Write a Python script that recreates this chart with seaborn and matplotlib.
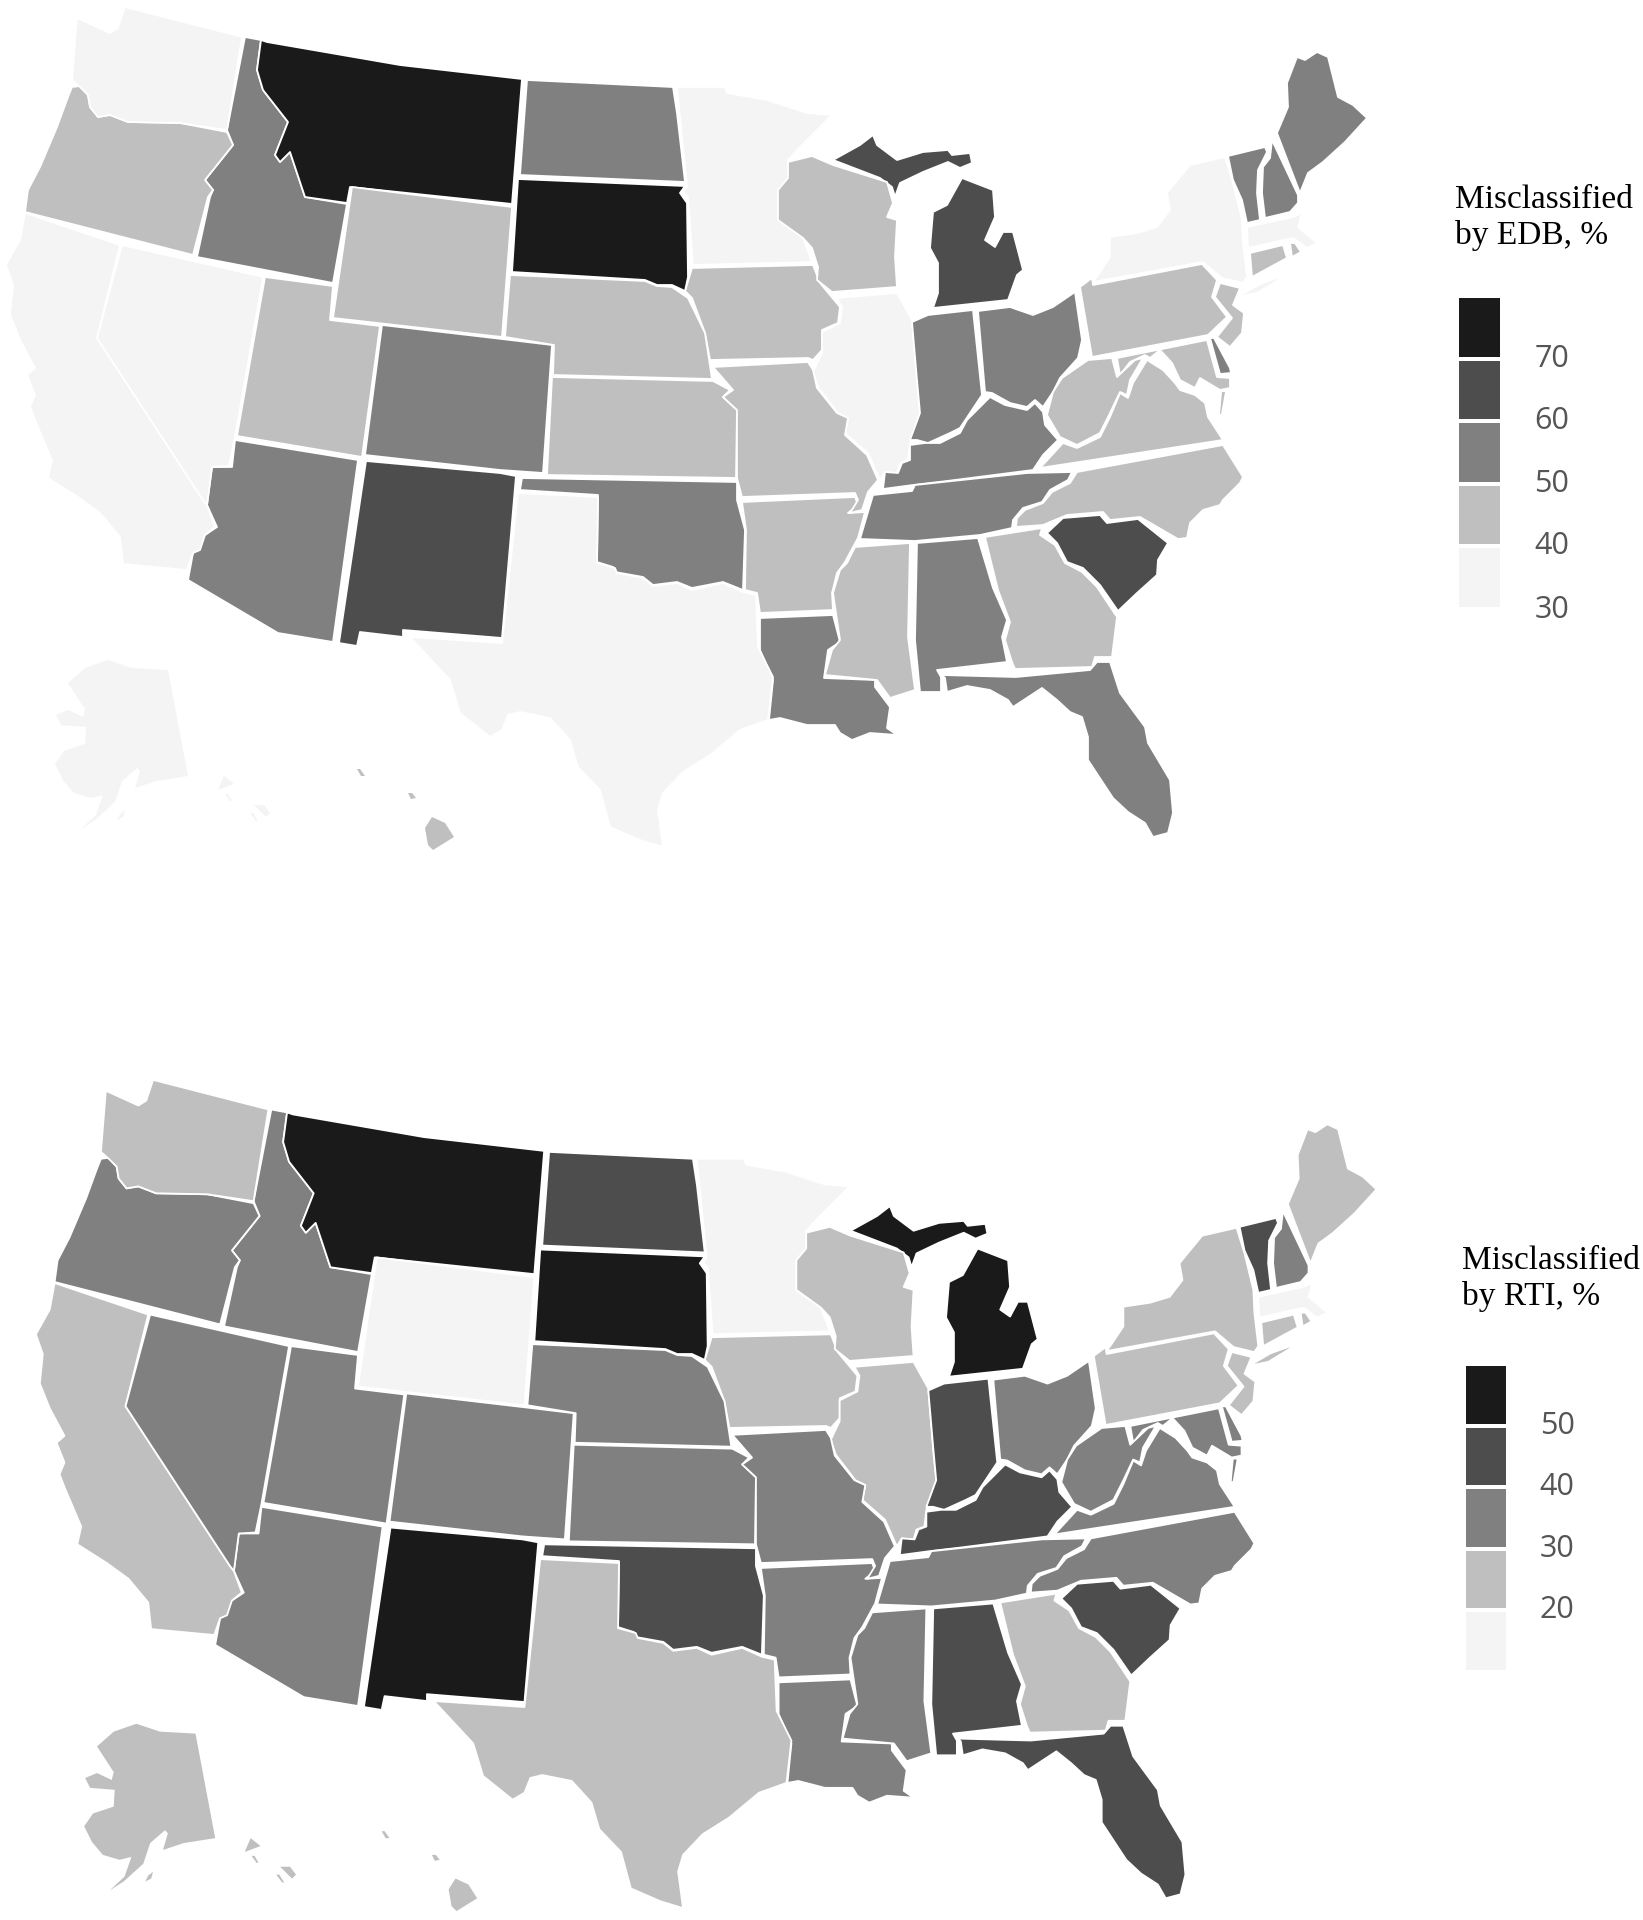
"""Misclassification by state, EDB and RTI measures, as two binned maps."""

import matplotlib

matplotlib.use("Agg")
import matplotlib.pyplot as plt
import numpy as np
import seaborn as sns

STATES = [
    "AK", "AL", "AR", "AZ", "CA", "CO", "CT", "DE", "FL", "GA",
    "HI", "IA", "ID", "IL", "IN", "KS", "KY", "LA", "MA", "MD",
    "ME", "MI", "MN", "MO", "MS", "MT", "NC", "ND", "NE", "NH",
    "NJ", "NM", "NV", "NY", "OH", "OK", "OR", "PA", "RI", "SC",
    "SD", "TN", "TX", "UT", "VA", "VT", "WA", "WI", "WV", "WY",
]
EDB_PCT = [
    35, 55, 45, 55, 35, 55, 45, 55, 55, 45,
    45, 45, 55, 35, 55, 45, 55, 55, 35, 45,
    55, 65, 35, 45, 45, 75, 45, 55, 45, 55,
    45, 65, 35, 35, 55, 55, 45, 45, 45, 65,
    75, 55, 35, 45, 45, 55, 35, 45, 45, 45,
]
RTI_PCT = [
    25, 45, 35, 35, 25, 35, 25, 35, 45, 25,
    25, 25, 35, 25, 45, 35, 45, 35, 15, 35,
    25, 55, 15, 35, 35, 55, 35, 45, 35, 35,
    25, 55, 35, 25, 35, 45, 35, 25, 25, 45,
    55, 35, 25, 35, 35, 45, 25, 25, 35, 15,
]
EDB_TICKS = [70, 60, 50, 40, 30]
RTI_TICKS = [50, 40, 30, 20]
GREYS = ["#f4f4f4", "#bfbfbf", "#808080", "#4d4d4d", "#1a1a1a"]

# state outlines in map units, several parts for MI, NY, VA, AK and HI
OUTLINES = {
    "WA": [[(125, 7), (242, 37), (227, 130), (180, 123), (128, 122), (110, 115), (98, 117), (90, 107), (88, 95), (80, 87), (72, 80), (77, 18), (110, 33), (118, 28)]],
    "OR": [[(72, 87), (80, 86), (88, 95), (90, 107), (98, 117), (110, 115), (128, 122), (180, 123), (227, 132), (233, 145), (205, 180), (213, 190), (208, 197), (193, 255), (25, 212), (28, 190), (40, 167), (57, 127), (68, 97)]],
    "ID": [[(245, 37), (261, 40), (257, 70), (263, 90), (288, 122), (275, 155), (280, 162), (290, 152), (305, 197), (347, 204), (333, 283), (197, 257), (210, 197), (213, 190), (205, 180), (233, 145), (227, 130)]],
    "MT": [[(267, 42), (400, 65), (522, 79), (512, 204), (350, 187), (347, 203), (305, 197), (290, 152), (280, 162), (275, 155), (288, 122), (263, 90), (257, 70), (261, 40)]],
    "WY": [[(352, 187), (512, 207), (502, 337), (333, 318)]],
    "UT": [[(265, 277), (333, 286), (330, 320), (380, 326), (362, 457), (237, 436)]],
    "NV": [[(122, 245), (263, 277), (235, 437), (229, 466), (212, 467), (207, 505), (203, 500), (97, 338)]],
    "CA": [[(25, 213), (120, 245), (97, 338), (203, 500), (207, 505), (215, 527), (205, 535), (200, 550), (193, 553), (187, 570), (123, 564), (120, 537), (100, 513), (78, 497), (48, 478), (52, 460), (35, 420), (30, 407), (35, 395), (27, 375), (35, 368), (20, 340), (10, 315), (13, 285), (6, 265), (20, 240)]],
    "AZ": [[(235, 440), (358, 460), (333, 642), (278, 633), (188, 580), (193, 553), (202, 537), (217, 527), (207, 505), (212, 467), (232, 467)]],
    "CO": [[(382, 325), (502, 339), (552, 345), (543, 473), (500, 470), (365, 455)]],
    "NM": [[(366, 461), (500, 473), (516, 476), (502, 638), (403, 630), (403, 637), (360, 632), (357, 646), (339, 643)]],
    "ND": [[(527, 80), (673, 87), (677, 113), (685, 182), (520, 175)]],
    "SD": [[(518, 179), (685, 186), (680, 193), (687, 203), (688, 277), (685, 291), (672, 285), (657, 285), (645, 280), (512, 272)]],
    "NE": [[(510, 275), (645, 281), (657, 286), (672, 287), (688, 298), (705, 333), (712, 379), (553, 375), (554, 345), (505, 337)]],
    "KS": [[(552, 377), (713, 381), (730, 390), (723, 397), (737, 410), (736, 478), (547, 475)]],
    "OK": [[(522, 478), (737, 482), (737, 500), (745, 530), (743, 590), (723, 582), (692, 588), (677, 582), (653, 585), (643, 577), (615, 572), (613, 567), (597, 562), (598, 495), (520, 490)]],
    "TX": [[(518, 493), (598, 497), (597, 563), (615, 568), (617, 573), (643, 578), (653, 586), (677, 583), (692, 590), (723, 583), (743, 592), (756, 595), (758, 647), (773, 677), (768, 720), (740, 730), (710, 755), (683, 772), (663, 793), (658, 810), (663, 847), (640, 840), (610, 827), (600, 790), (578, 767), (570, 740), (550, 718), (520, 712), (508, 715), (502, 730), (490, 737), (460, 713), (450, 680), (410, 637), (502, 643)]],
    "MN": [[(677, 87), (725, 87), (727, 93), (767, 100), (807, 113), (832, 115), (800, 147), (788, 160), (788, 178), (778, 190), (778, 220), (803, 238), (812, 262), (693, 265), (688, 197), (683, 192), (687, 187)]],
    "IA": [[(692, 268), (813, 265), (820, 283), (840, 307), (838, 323), (822, 330), (822, 350), (813, 360), (808, 358), (710, 360), (705, 333), (692, 298), (685, 291), (689, 278)]],
    "WI": [[(788, 162), (812, 156), (833, 165), (887, 182), (893, 203), (887, 217), (897, 220), (895, 257), (897, 287), (832, 292), (817, 280), (818, 267), (812, 248), (803, 238), (778, 220), (778, 190), (788, 178)]],
    "MI": [
        [(833, 160), (860, 145), (873, 135), (877, 145), (893, 157), (897, 160), (923, 152), (948, 150), (952, 155), (970, 153), (972, 163), (960, 168), (948, 162), (923, 172), (900, 183), (895, 197), (892, 187), (880, 178)],
        [(962, 178), (993, 190), (995, 217), (985, 240), (995, 247), (1003, 232), (1013, 232), (1023, 270), (1017, 275), (1008, 300), (933, 308), (938, 293), (938, 263), (930, 248), (933, 212), (947, 205)],
    ],
    "IL": [[(837, 298), (897, 293), (912, 320), (917, 383), (920, 413), (910, 443), (908, 460), (900, 463), (897, 473), (885, 472), (880, 480), (868, 453), (845, 433), (848, 418), (838, 413), (818, 387), (813, 372), (822, 353), (822, 332), (840, 323), (842, 307)]],
    "IN": [[(912, 322), (928, 315), (973, 310), (982, 395), (960, 428), (950, 433), (928, 443), (917, 440), (910, 440), (920, 413), (917, 380)]],
    "OH": [[(978, 311), (1010, 307), (1033, 315), (1053, 307), (1075, 292), (1082, 340), (1078, 358), (1060, 378), (1053, 392), (1043, 407), (1035, 400), (1027, 407), (1010, 403), (992, 393), (985, 392)]],
    "KY": [[(990, 397), (1005, 405), (1027, 410), (1035, 403), (1043, 412), (1045, 425), (1058, 440), (1043, 455), (1033, 470), (947, 481), (913, 485), (883, 489), (885, 472), (898, 473), (902, 463), (910, 460), (910, 445), (925, 443), (940, 443), (960, 433), (967, 420)]],
    "TN": [[(873, 495), (912, 491), (915, 485), (1027, 473), (1072, 472), (1068, 480), (1050, 490), (1042, 502), (1023, 508), (1013, 520), (1012, 528), (980, 535), (915, 541), (860, 539)]],
    "NC": [[(1077, 472), (1223, 445), (1243, 477), (1240, 483), (1223, 500), (1220, 505), (1203, 510), (1190, 523), (1187, 538), (1178, 539), (1140, 517), (1110, 520), (1103, 512), (1067, 515), (1043, 525), (1016, 527), (1017, 518), (1025, 510), (1043, 503), (1052, 492), (1070, 483)]],
    "SC": [[(1047, 533), (1063, 518), (1100, 515), (1107, 523), (1138, 519), (1168, 543), (1158, 560), (1157, 575), (1137, 593), (1118, 611), (1100, 585), (1083, 568), (1067, 562), (1057, 543)]],
    "GA": [[(985, 537), (1042, 528), (1040, 535), (1055, 545), (1065, 563), (1082, 572), (1097, 587), (1117, 617), (1112, 657), (1095, 657), (1092, 667), (1015, 669), (1012, 662), (1005, 640), (1010, 622), (998, 590)]],
    "AL": [[(917, 543), (978, 538), (993, 588), (1007, 620), (1002, 637), (1007, 662), (937, 670), (941, 677), (941, 692), (920, 692), (915, 640)]],
    "MS": [[(855, 547), (910, 543), (908, 637), (915, 690), (890, 698), (877, 680), (825, 675), (832, 650), (840, 640), (833, 593), (840, 570), (847, 563)]],
    "LA": [[(760, 618), (833, 615), (840, 642), (828, 650), (824, 678), (875, 680), (875, 687), (890, 707), (887, 728), (897, 735), (870, 733), (852, 740), (840, 733), (835, 725), (807, 725), (780, 718), (769, 720), (773, 680), (760, 650)]],
    "AR": [[(742, 502), (855, 497), (858, 505), (848, 513), (865, 512), (858, 538), (845, 562), (837, 573), (832, 593), (833, 610), (760, 613), (757, 593), (745, 590), (746, 530)]],
    "MO": [[(713, 367), (808, 362), (813, 370), (817, 388), (837, 413), (848, 418), (845, 435), (867, 455), (878, 480), (868, 492), (862, 510), (850, 513), (858, 500), (855, 493), (742, 497), (737, 478), (737, 410), (723, 397), (733, 390)]],
    "PA": [[(1080, 287), (1092, 278), (1093, 285), (1202, 264), (1217, 280), (1212, 297), (1227, 317), (1208, 335), (1092, 357)]],
    "NY": [
        [(1098, 275), (1110, 257), (1110, 237), (1137, 233), (1157, 227), (1170, 210), (1167, 193), (1190, 165), (1225, 157), (1233, 183), (1242, 220), (1243, 243), (1247, 277), (1243, 283), (1222, 278), (1203, 262), (1093, 282)],
        [(1243, 295), (1260, 285), (1280, 278), (1257, 292)],
    ],
    "NJ": [[(1220, 283), (1240, 288), (1233, 305), (1244, 313), (1242, 333), (1230, 347), (1217, 337), (1232, 318), (1215, 297)]],
    "VT": [[(1228, 156), (1265, 147), (1267, 152), (1258, 170), (1257, 193), (1260, 220), (1247, 223), (1242, 200), (1233, 180)]],
    "NH": [[(1272, 140), (1298, 195), (1298, 203), (1290, 212), (1265, 218), (1262, 193), (1263, 167), (1270, 158)]],
    "ME": [[(1297, 57), (1305, 60), (1317, 52), (1328, 57), (1338, 97), (1353, 105), (1367, 118), (1345, 142), (1323, 162), (1308, 173), (1300, 193), (1277, 133), (1288, 107), (1287, 83)]],
    "MA": [[(1247, 227), (1293, 217), (1302, 213), (1298, 227), (1317, 243), (1307, 248), (1293, 238), (1248, 248)]],
    "CT": [[(1250, 253), (1283, 245), (1287, 258), (1252, 277)]],
    "RI": [[(1290, 243), (1295, 243), (1301, 252), (1292, 257)]],
    "MD": [[(1117, 358), (1207, 340), (1217, 377), (1230, 378), (1230, 388), (1220, 390), (1200, 378), (1195, 388), (1180, 380), (1172, 363), (1160, 350), (1150, 358), (1145, 355), (1130, 362), (1120, 375)]],
    "DE": [[(1210, 338), (1214, 338), (1230, 368), (1231, 373), (1220, 374)]],
    "VA": [
        [(1040, 468), (1063, 443), (1077, 448), (1100, 437), (1110, 417), (1120, 393), (1128, 398), (1133, 383), (1147, 360), (1163, 370), (1175, 383), (1180, 390), (1195, 395), (1205, 403), (1208, 417), (1223, 440)],
        [(1222, 392), (1225, 392), (1221, 414), (1220, 414)],
    ],
    "WV": [[(1047, 415), (1053, 392), (1062, 378), (1088, 360), (1112, 358), (1117, 377), (1135, 360), (1143, 358), (1130, 380), (1127, 395), (1120, 392), (1110, 413), (1100, 433), (1077, 445), (1060, 437)]],
    "FL": [[(942, 675), (1016, 677), (1090, 670), (1097, 662), (1110, 662), (1120, 693), (1145, 727), (1148, 743), (1170, 780), (1173, 813), (1168, 833), (1153, 837), (1145, 823), (1128, 812), (1113, 798), (1088, 760), (1088, 737), (1082, 717), (1070, 712), (1057, 700), (1042, 688), (1013, 707), (1008, 700), (990, 690), (967, 686), (947, 692), (945, 678)]],
    "AK": [
        [(108, 660), (85, 668), (68, 683), (85, 709), (83, 717), (68, 710), (56, 715), (61, 725), (86, 727), (85, 744), (64, 751), (55, 764), (63, 780), (74, 793), (91, 798), (103, 795), (96, 815), (81, 829), (95, 820), (115, 802), (122, 781), (137, 768), (140, 771), (135, 788), (156, 781), (188, 776), (168, 670), (132, 668)],
        [(125, 810), (123, 817), (117, 820), (120, 814)],
        [(218, 790), (224, 776), (234, 784)],
        [(254, 805), (264, 805), (270, 813), (266, 817)],
        [(225, 794), (228, 794), (232, 801), (230, 801)],
        [(250, 813), (253, 813), (258, 821), (256, 821)],
    ],
    "HI": [
        [(432, 817), (445, 823), (454, 837), (433, 850), (428, 845), (425, 828)],
        [(357, 769), (360, 769), (365, 776), (361, 776)],
        [(408, 793), (412, 793), (416, 798), (411, 799)],
    ],
}
NO_EDGE_PARTS = {("NY", 1), ("VA", 1)}
NO_EDGE_STATES = {"AK", "HI"}

# where each panel sits on the page
TOP_PANEL = dict(sx=1.0, sy=1.0, dx=0.0, dy=0.0)
BOTTOM_PANEL = dict(sx=0.985, sy=0.986, dx=30.0, dy=1073.0)


def draw_map(ax, values, palette, edges, panel):
    """Fill every state with the grey of its bin."""
    bins = np.digitize(values, edges)
    for state, b in zip(STATES, bins):
        for i, part in enumerate(OUTLINES[state]):
            xy = np.array(part, dtype=float)
            bare = state in NO_EDGE_STATES or (state, i) in NO_EDGE_PARTS
            ax.fill(
                xy[:, 0] * panel["sx"] + panel["dx"],
                xy[:, 1] * panel["sy"] + panel["dy"],
                facecolor=palette[b],
                edgecolor="none" if bare else "white",
                linewidth=0 if bare else 1.3,
                joinstyle="round",
            )


def draw_legend(fig, rect, palette, ticks, tick_rows, title, title_xy):
    """Stacked swatches, drawn as a one column heatmap, with the bin limits beside them."""
    cax = fig.add_axes([rect[0] / W, 1 - (rect[1] + rect[3]) / H, rect[2] / W, rect[3] / H])
    cells = np.arange(len(palette))[::-1].reshape(-1, 1)
    sns.heatmap(cells, cmap=list(palette), cbar=False, ax=cax, linewidths=1.5, linecolor="white",
                xticklabels=False, yticklabels=False)
    cax.set_xlabel("")
    cax.set_ylabel("")
    for tick, row in zip(ticks, tick_rows):
        cax.text(1.72, row, str(tick), ha="left", va="center", color="#555555", fontsize=22,
                 family="Open Sans", clip_on=False)
    fig.text(title_xy[0] / W, 1 - title_xy[1] / H, title, ha="left", va="baseline",
             fontsize=24, family="Liberation Serif", color="black", linespacing=1.2)


W, H = 1643, 1920
sns.set_theme(style="white")
palette = sns.color_palette(GREYS)
fig = plt.figure(figsize=(W / 100, H / 100), dpi=100)
ax = fig.add_axes([0, 0, 1, 1])
ax.set_xlim(0, W)
ax.set_ylim(H, 0)
ax.axis("off")

draw_map(ax, EDB_PCT, palette, [40, 50, 60, 70], TOP_PANEL)
draw_map(ax, RTI_PCT, palette, [20, 30, 40, 50], BOTTOM_PANEL)

draw_legend(fig, (1457, 296, 45, 313), palette, EDB_TICKS, [1, 2, 3, 4, 5.02],
            "Misclassified\nby EDB, %", (1455, 244))
draw_legend(fig, (1464, 1364, 44, 308), palette, RTI_TICKS, [1, 2, 3, 4],
            "Misclassified\nby RTI, %", (1462, 1305))

fig.savefig("out.png", dpi=100, facecolor="white")
